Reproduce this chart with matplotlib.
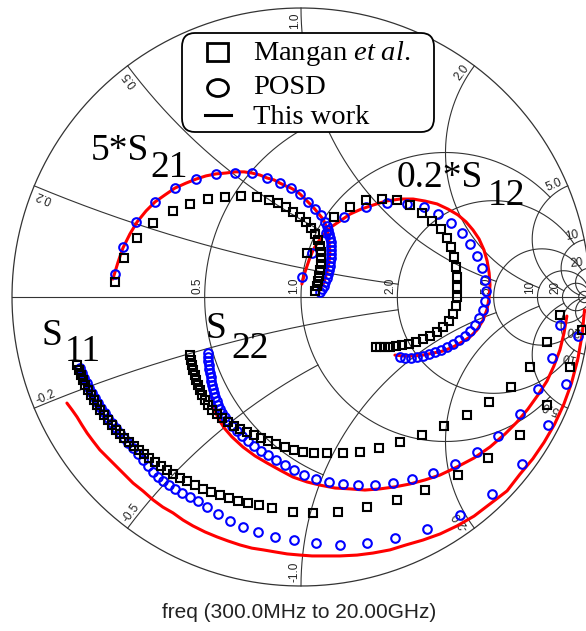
import numpy as np
import matplotlib
matplotlib.use('Agg')
import matplotlib.pyplot as plt
from matplotlib.patches import FancyBboxPatch, Rectangle, Ellipse

plt.rcParams['mathtext.fontset'] = 'custom'
plt.rcParams['mathtext.rm'] = 'Liberation Serif'
plt.rcParams['mathtext.it'] = 'Liberation Serif:italic'

SERIF = 'Liberation Serif'
SANS = 'Liberation Sans'

# ---- S-parameters, real / imaginary parts (S21 scaled by 5, S12 by 0.2) ----
s21_work_re = [-.651, -.633, -.616, -.592, -.567, -.536, -.505, -.471, -.436, -.398, -.363, -.329, -.294,
               -.260, -.228, -.197, -.170, -.142, -.118, -.093, -.073, -.052, -.035, -.017, -.003, .010,
               .024, .038, .048, .062, .076, .087, .093, .097, .100, .097, .090, .080, .066]
s21_work_im = [.062, .121, .170, .218, .260, .298, .329, .353, .377, .394, .408, .419, .426, .429, .433,
               .433, .429, .422, .412, .405, .394, .384, .377, .367, .356, .343, .329, .315, .304, .287,
               .270, .246, .221, .190, .156, .121, .087, .052, .024]
s21_posd_re = [-.644, -.616, -.571, -.505, -.436, -.363, -.294, -.228, -.170, -.118, -.073, -.035, -.003,
               .024, .048, .069, .083, .090, .093, .097, .100, .104, .104, .104, .104, .104, .100, .100,
               .097, .093, .090, .083, .080, .073, .066]
s21_posd_im = [.080, .173, .260, .329, .377, .408, .426, .429, .429, .412, .394, .377, .356, .329, .304,
               .284, .260, .246, .232, .218, .204, .190, .176, .163, .149, .135, .121, .107, .093, .080,
               .066, .052, .038, .028, .017]
s21_mangan_re = [-.644, -.612, -.567, -.512, -.443, -.384, -.322, -.263, -.208, -.152, -.111, -.080, -.052,
                 -.028, -.003, .017, .035, .048, .059, .066, .069, .069, .069, .066, .062, .059, .055, .048]
s21_mangan_im = [.052, .135, .204, .256, .298, .322, .339, .346, .349, .346, .336, .325, .311, .294, .277,
                 .260, .239, .218, .197, .176, .156, .135, .114, .093, .073, .055, .038, .021]

s12_work_re = [.003, .014, .028, .042, .059, .080, .104, .135, .170, .208, .249, .294, .343, .388, .429,
               .471, .509, .543, .571, .595, .616, .633, .644, .651, .654, .651, .644, .630, .609, .585,
               .557, .526, .491, .457, .422, .388, .353, .325]
s12_work_im = [.045, .087, .128, .163, .190, .218, .242, .263, .287, .304, .318, .332, .339, .339, .332,
               .322, .304, .284, .260, .232, .201, .163, .125, .083, .042, .000, -.042, -.080, -.114,
               -.138, -.156, -.173, -.187, -.194, -.201, -.204, -.204, -.201]
s12_posd_re = [.003, .038, .087, .149, .225, .298, .367, .426, .474, .519, .557, .585, .609, .626, .637,
               .640, .637, .630, .616, .602, .585, .567, .547, .526, .505, .484, .464, .443, .422, .401,
               .381, .360, .343]
s12_posd_im = [.069, .152, .221, .277, .311, .325, .322, .311, .287, .256, .221, .183, .142, .100, .059,
               .021, -.014, -.045, -.073, -.097, -.118, -.135, -.149, -.163, -.173, -.183, -.190, -.197,
               -.204, -.208, -.211, -.211, -.208]
s12_mangan_re = [.021, .114, .170, .225, .280, .332, .377, .419, .453, .484, .505, .519, .529, .536, .540,
                 .540, .540, .536, .526, .512, .491, .471, .446, .422, .398, .374, .349, .329, .308, .291,
                 .273, .260]
s12_mangan_im = [.152, .277, .311, .336, .339, .336, .318, .291, .263, .235, .204, .173, .138, .104, .069,
                 .035, .000, -.031, -.059, -.083, -.104, -.121, -.135, -.145, -.156, -.163, -.166, -.170,
                 -.173, -.173, -.173, -.173]

s22_work_re = [-.308, -.301, -.287, -.266, -.239, -.201, -.159, -.118, -.073, -.028, .021, .066, .118,
               .170, .221, .273, .325, .377, .429, .481, .540, .599, .654, .706, .747, .785, .820, .851,
               .875, .896, .910, .920]
s22_work_im = [-.349, -.384, -.419, -.453, -.484, -.519, -.550, -.574, -.599, -.623, -.640, -.651, -.661,
               -.664, -.668, -.664, -.657, -.647, -.633, -.616, -.588, -.557, -.519, -.474, -.433, -.388,
               -.339, -.291, -.239, -.183, -.125, -.066]
s22_posd_re = [-.322, -.322, -.322, -.318, -.318, -.315, -.311, -.311, -.308, -.304, -.301, -.298, -.291,
               -.287, -.280, -.273, -.263, -.253, -.239, -.221, -.204, -.183, -.163, -.138, -.114, -.087,
               -.055, -.024, .010, .052, .097, .145, .197, .256, .318, .384, .457, .533, .609, .682, .758,
               .820, .869, .896]
s22_posd_im = [-.194, -.208, -.221, -.235, -.249, -.263, -.277, -.291, -.304, -.318, -.332, -.346, -.360,
               -.374, -.388, -.401, -.415, -.429, -.446, -.464, -.481, -.498, -.516, -.533, -.547, -.564,
               -.581, -.599, -.616, -.630, -.640, -.647, -.651, -.651, -.644, -.630, -.609, -.578, -.536,
               -.481, -.405, -.318, -.211, -.097]
s22_mangan_re = [-.384, -.381, -.377, -.374, -.367, -.363, -.356, -.349, -.343, -.332, -.322, -.308, -.291,
                 -.273, -.253, -.232, -.211, -.187, -.163, -.138, -.114, -.087, -.055, -.024, .007, .045,
                 .090, .145, .204, .270, .343, .419, .495, .574, .651, .727, .792, .851, .896]
s22_mangan_im = [-.201, -.218, -.235, -.253, -.270, -.287, -.304, -.322, -.339, -.356, -.374, -.391, -.405,
                 -.419, -.433, -.446, -.457, -.467, -.478, -.488, -.498, -.509, -.519, -.529, -.536, -.540,
                 -.540, -.540, -.536, -.522, -.502, -.478, -.446, -.408, -.363, -.311, -.242, -.156, -.062]

s11_work_re = [-.810, -.792, -.775, -.758, -.740, -.720, -.696, -.668, -.637, -.609, -.581, -.547, -.512,
               -.478, -.443, -.408, -.374, -.332, -.291, -.253, -.211, -.170, -.131, -.090, -.048, -.003,
               .038, .083, .135, .194, .249, .308, .363, .422, .481, .540, .599, .654, .713, .757, .802,
               .841, .877, .909, .936, .958, .973, .981]
s11_work_im = [-.367, -.391, -.415, -.443, -.471, -.498, -.529, -.557, -.588, -.616, -.644, -.671, -.702,
               -.727, -.747, -.772, -.792, -.813, -.830, -.844, -.858, -.869, -.875, -.882, -.889, -.893,
               -.896, -.896, -.896, -.893, -.886, -.875, -.858, -.841, -.820, -.792, -.758, -.716, -.671,
               -.614, -.560, -.503, -.441, -.372, -.298, -.214, -.129, -.045]
s11_posd_re = [-.765, -.758, -.751, -.740, -.734, -.723, -.713, -.702, -.692, -.678, -.668, -.654, -.640,
               -.626, -.612, -.599, -.581, -.564, -.547, -.529, -.512, -.495, -.478, -.457, -.436, -.412,
               -.384, -.356, -.325, -.287, -.246, -.201, -.149, -.090, -.024, .052, .135, .228, .325, .436,
               .550, .661, .763, .853, .918, .958]
s11_posd_im = [-.246, -.263, -.280, -.298, -.315, -.332, -.349, -.367, -.384, -.401, -.419, -.436, -.453,
               -.471, -.488, -.505, -.522, -.543, -.564, -.585, -.606, -.623, -.637, -.651, -.664, -.678,
               -.692, -.706, -.727, -.751, -.775, -.796, -.813, -.830, -.841, -.851, -.858, -.851, -.834,
               -.803, -.754, -.682, -.579, -.444, -.300, -.136]
s11_mangan_re = [-.775, -.768, -.761, -.754, -.747, -.737, -.727, -.716, -.706, -.696, -.682, -.668, -.654,
                 -.640, -.626, -.612, -.595, -.578, -.561, -.543, -.526, -.505, -.484, -.464, -.443, -.419,
                 -.394, -.367, -.339, -.311, -.280, -.249, -.218, -.183, -.145, -.100, -.028, .042, .128,
                 .228, .332, .429, .543, .647, .758, .851, .931, .972]
s11_mangan_im = [-.235, -.253, -.270, -.287, -.304, -.322, -.339, -.356, -.374, -.391, -.408, -.426, -.443,
                 -.460, -.474, -.488, -.502, -.516, -.529, -.543, -.557, -.571, -.585, -.599, -.612, -.626,
                 -.637, -.651, -.664, -.675, -.685, -.696, -.706, -.713, -.720, -.730, -.744, -.747, -.744,
                 -.727, -.702, -.668, -.616, -.557, -.478, -.374, -.242, -.114]

# Smith chart grid: resistance circles (with |x| limit) and reactance arcs (with r limit)
r_grid = [(0.5, 1.0), (1.0, 5.0), (2.0, 10.0), (5.0, 20.0), (10.0, None), (20.0, None), (50.0, None)]
x_grid = [(0.2, 2.0), (0.5, 1.0), (1.0, 5.0), (2.0, 10.0), (5.0, 20.0), (10.0, 50.0), (20.0, None)]
ring_labels = [(0.2, '0.2'), (0.5, '0.5'), (1.0, '1.0'), (2.0, '2.0'), (5.0, '5.0'), (10.0, '10'), (20.0, '20')]
axis_labels = [(0.5, '0.5'), (1.0, '1.0'), (2.0, '2.0'), (5.0, '5.0'), (10.0, '10'), (20.0, '20')]

W, H = 586, 631
GRID = '#333333'


def gamma(z):
    return (z - 1) / (z + 1)


def pix(x, y):
    # canvas pixel -> axes fraction, for layout items
    return x / W, 1 - y / H


fig = plt.figure(figsize=(W / 100, H / 100), dpi=100)
ax = fig.add_axes([0, 0, 1, 1])
ax.set_xlim(-301 / 289, (W - 301) / 289)
ax.set_ylim((297 - H) / 289, 297 / 289)
ax.axis('off')

# outer circle and real axis
t = np.linspace(0, 2 * np.pi, 800)
ax.plot(np.cos(t), np.sin(t), color=GRID, lw=0.9, zorder=1)
ax.plot([-1, 1], [0, 0], color=GRID, lw=0.8, zorder=1)

for r, xmax in r_grid:
    tm = np.arctan(xmax) if xmax else 0.99995 * np.pi / 2
    g = gamma(r + 1j * np.tan(np.linspace(-tm, tm, 800)))
    ax.plot(g.real, g.imag, color=GRID, lw=0.8, zorder=1)

for xv, rmax in x_grid:
    tm = np.arctan(rmax) if rmax else 0.99995 * np.pi / 2
    rr = np.tan(np.linspace(0, tm, 800))
    for s in (1, -1):
        g = gamma(rr + 1j * s * xv)
        ax.plot(g.real, g.imag, color=GRID, lw=0.8, zorder=1)

lab_kw = dict(fontsize=8.5, family=SANS, color='#222222', rotation_mode='anchor', zorder=2)
for xv, lab in ring_labels:
    g = gamma(1j * xv)
    phi = np.degrees(np.angle(g))
    p = 0.985 * g
    ax.text(p.real, p.imag, lab, rotation=phi, ha='right', va='bottom', **lab_kw)
    g = gamma(-1j * xv)
    phi = np.degrees(np.angle(g))
    p = 0.985 * g
    ax.text(p.real, p.imag, '-' + lab, rotation=phi + 180, ha='left', va='bottom', **lab_kw)

for r, lab in axis_labels:
    ax.text(gamma(r) - 0.004, 0.012, lab, rotation=90, ha='left', va='bottom', **lab_kw)

# measured / modelled traces
line_kw = dict(color='#ff0000', lw=2.2, zorder=3, solid_capstyle='round')
posd_kw = dict(ls='none', marker='o', ms=6.2, mfc='none', mec='#0000ff', mew=1.5, zorder=4)
mang_kw = dict(ls='none', marker='s', ms=6.0, mfc='none', mec='black', mew=1.5, zorder=5)

for re_w, im_w, re_p, im_p, re_m, im_m in [
        (s11_work_re, s11_work_im, s11_posd_re, s11_posd_im, s11_mangan_re, s11_mangan_im),
        (s22_work_re, s22_work_im, s22_posd_re, s22_posd_im, s22_mangan_re, s22_mangan_im),
        (s21_work_re, s21_work_im, s21_posd_re, s21_posd_im, s21_mangan_re, s21_mangan_im),
        (s12_work_re, s12_work_im, s12_posd_re, s12_posd_im, s12_mangan_re, s12_mangan_im)]:
    ax.plot(re_w, im_w, **line_kw)
    ax.plot(re_p, im_p, **posd_kw)
    ax.plot(re_m, im_m, **mang_kw)

# trace names
name_kw = dict(family=SERIF, fontsize=27, transform=ax.transAxes, ha='left', va='baseline', zorder=6)
for main, sub, x0, y0, x1, y1 in [('5*S', '21', 91, 160, 150, 177),
                                  ('0.2*S', '12', 397, 187, 488, 205),
                                  ('S', '11', 42, 345, 65, 361),
                                  ('S', '22', 206, 338, 231, 358)]:
    ax.text(*pix(x0, y0), main, **name_kw)
    ax.text(*pix(x1, y1), sub, **name_kw)

# legend
bx0, by0 = pix(182, 132)
bx1, by1 = pix(434, 33)
ax.add_patch(FancyBboxPatch((bx0, by0), bx1 - bx0, by1 - by0, boxstyle='round,pad=0,rounding_size=0.022',
                            transform=ax.transAxes, fc='white', ec='black', lw=1.3, zorder=7))
ax.add_patch(Rectangle(pix(207, 61), 21 / W, 18 / H, transform=ax.transAxes,
                       fc='none', ec='black', lw=2.0, zorder=8))
ax.add_patch(Ellipse(pix(218, 88), 21 / W, 17 / H, transform=ax.transAxes,
                     fc='none', ec='black', lw=2.0, zorder=8))
ax.plot([205 / W, 231 / W], [1 - 115 / H] * 2, transform=ax.transAxes, color='black', lw=2.2, zorder=8)
leg_kw = dict(family=SERIF, fontsize=20.5, transform=ax.transAxes, ha='left', va='baseline', zorder=8)
ax.text(*pix(253, 60), r'Mangan $\mathit{et\ al.}$', **leg_kw)
ax.text(*pix(253, 94), 'POSD', **leg_kw)
ax.text(*pix(253, 124), 'This work', **leg_kw)

ax.text(*pix(299, 613), 'freq (300.0MHz to 20.00GHz)', family=SANS, fontsize=15, color='#222222',
        transform=ax.transAxes, ha='center', va='center')

fig.savefig('out.png', dpi=100)
